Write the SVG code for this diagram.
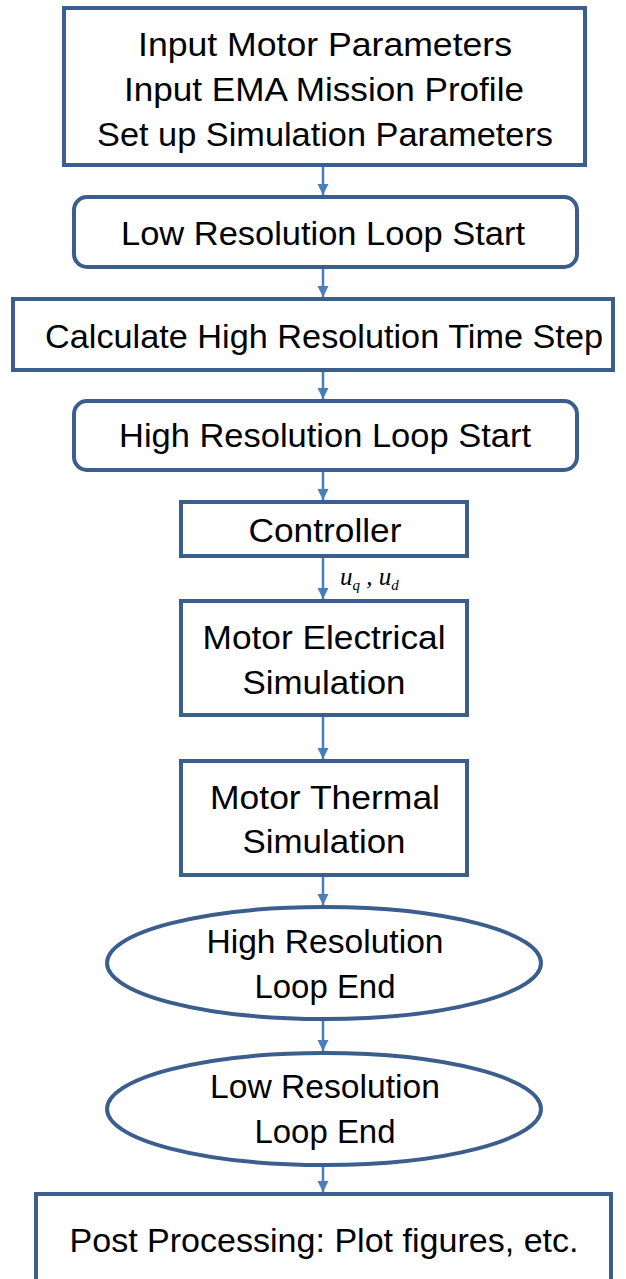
<svg xmlns="http://www.w3.org/2000/svg" width="626" height="1279" viewBox="0 0 626 1279">
<defs>
<style>
.box{fill:#ffffff;stroke:#3b5e8c;stroke-width:4}
.t{font-family:"Liberation Sans",Arial,sans-serif;font-size:33px;fill:#000;text-anchor:middle}
.c{stroke:#4a7ebb;stroke-width:2.5;fill:none}
.lbl{font-family:"Liberation Serif","Times New Roman",serif;font-style:italic;font-size:25px;fill:#000}
.sub{font-size:15px}
</style>
<marker id="ah" viewBox="0 0 10 10" refX="10" refY="5" markerWidth="4.6" markerHeight="4.6" markerUnits="strokeWidth" orient="auto">
<path d="M0,0 L10,5 L0,10 z" fill="#4a7ebb"/>
</marker>
</defs>
<rect width="626" height="1279" fill="#ffffff"/>
<g id="connectors">
<line class="c" x1="323" y1="166" x2="323" y2="195" marker-end="url(#ah)"/>
<line class="c" x1="323" y1="268" x2="323" y2="297" marker-end="url(#ah)"/>
<line class="c" x1="323" y1="371" x2="323" y2="399" marker-end="url(#ah)"/>
<line class="c" x1="323" y1="471" x2="323" y2="500" marker-end="url(#ah)"/>
<line class="c" x1="323" y1="557" x2="323" y2="599" marker-end="url(#ah)"/>
<line class="c" x1="323" y1="716" x2="323" y2="759" marker-end="url(#ah)"/>
<line class="c" x1="323" y1="876" x2="323" y2="905" marker-end="url(#ah)"/>
<line class="c" x1="323" y1="1021" x2="323" y2="1051" marker-end="url(#ah)"/>
<line class="c" x1="323" y1="1167" x2="323" y2="1192" marker-end="url(#ah)"/>
<text class="lbl" x="340" y="585">u<tspan class="sub" dy="5">q</tspan><tspan dy="-5"> , u</tspan><tspan class="sub" dy="5">d</tspan></text>
</g>
<g id="n1">
<rect class="box" x="64" y="8" width="521" height="157"/>
<text class="t" x="325" y="56" textLength="374" lengthAdjust="spacingAndGlyphs">Input Motor Parameters</text>
<text class="t" x="324" y="101" textLength="400" lengthAdjust="spacingAndGlyphs">Input EMA Mission Profile</text>
<text class="t" x="325" y="146" textLength="456" lengthAdjust="spacingAndGlyphs">Set up Simulation Parameters</text>
</g>
<g id="n2">
<rect class="box" x="74" y="197" width="503" height="70" rx="13"/>
<text class="t" x="323" y="245" textLength="404" lengthAdjust="spacingAndGlyphs">Low Resolution Loop Start</text>
</g>
<g id="n3">
<rect class="box" x="13" y="299" width="600" height="71"/>
<text class="t" x="324" y="348" textLength="558" lengthAdjust="spacingAndGlyphs">Calculate High Resolution Time Step</text>
</g>
<g id="n4">
<rect class="box" x="74" y="401" width="503" height="69" rx="13"/>
<text class="t" x="325" y="447" textLength="412" lengthAdjust="spacingAndGlyphs">High Resolution Loop Start</text>
</g>
<g id="n5">
<rect class="box" x="181" y="502" width="286" height="54"/>
<text class="t" x="325" y="542" textLength="153" lengthAdjust="spacingAndGlyphs">Controller</text>
</g>
<g id="n6">
<rect class="box" x="181" y="601" width="286" height="114"/>
<text class="t" x="324" y="649" textLength="243" lengthAdjust="spacingAndGlyphs">Motor Electrical</text>
<text class="t" x="324" y="694" textLength="163" lengthAdjust="spacingAndGlyphs">Simulation</text>
</g>
<g id="n7">
<rect class="box" x="181" y="761" width="286" height="114"/>
<text class="t" x="325" y="809" textLength="230" lengthAdjust="spacingAndGlyphs">Motor Thermal</text>
<text class="t" x="324" y="853" textLength="163" lengthAdjust="spacingAndGlyphs">Simulation</text>
</g>
<g id="n8">
<ellipse class="box" cx="324" cy="963" rx="217" ry="56"/>
<text class="t" x="325" y="953" textLength="237" lengthAdjust="spacingAndGlyphs">High Resolution</text>
<text class="t" x="325" y="998" textLength="141" lengthAdjust="spacingAndGlyphs">Loop End</text>
</g>
<g id="n9">
<ellipse class="box" cx="324" cy="1109" rx="217" ry="56"/>
<text class="t" x="325" y="1098" textLength="230" lengthAdjust="spacingAndGlyphs">Low Resolution</text>
<text class="t" x="325" y="1143" textLength="141" lengthAdjust="spacingAndGlyphs">Loop End</text>
</g>
<g id="n10">
<rect class="box" x="36" y="1194" width="575" height="100"/>
<text class="t" x="324" y="1252" textLength="509" lengthAdjust="spacingAndGlyphs">Post Processing: Plot figures, etc.</text>
</g>
</svg>
